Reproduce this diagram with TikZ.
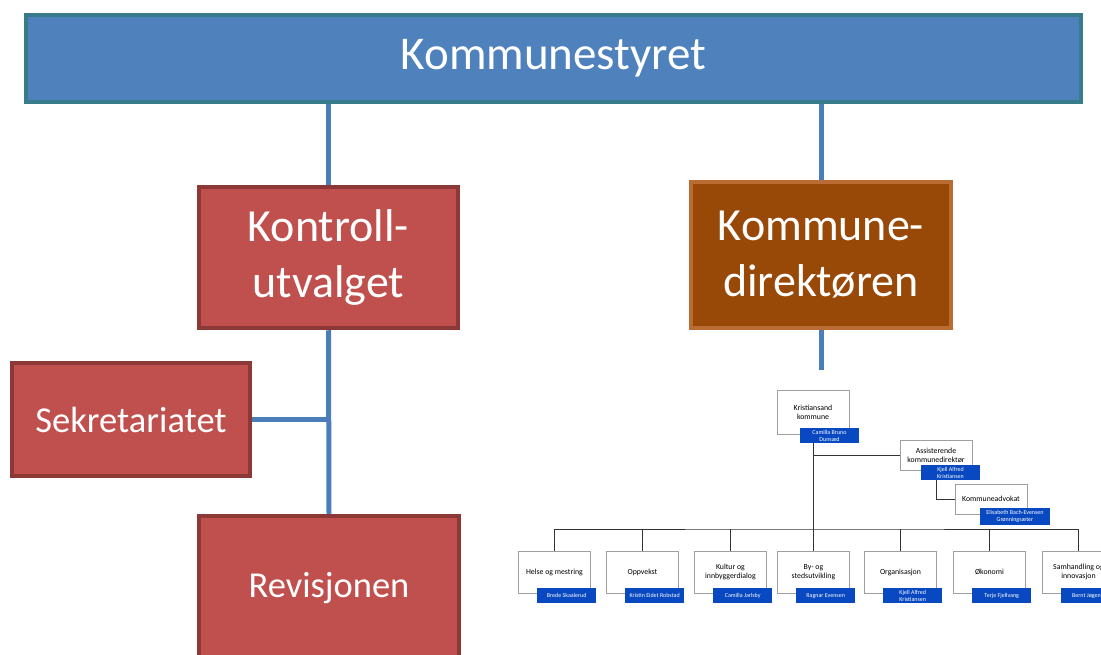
\documentclass[tikz,border=0pt]{standalone}
\usepackage{fontspec}
\setmainfont{Carlito}
\usepackage{xcolor}
\usepackage{tikz}
\usetikzlibrary{
  positioning,
  calc,
  backgrounds
}
\definecolor{styreblue}{RGB}{79,129,189}
\definecolor{styreedge}{RGB}{56,123,138}
\definecolor{kontrollred}{RGB}{192,80,77}
\definecolor{kontrolledge}{RGB}{140,56,54}
\definecolor{direktorbrown}{RGB}{152,72,7}
\definecolor{direktoredge}{RGB}{185,108,52}
\definecolor{linkblue}{RGB}{74,126,187}
\definecolor{nameblue}{RGB}{8,72,192}
\tikzset{
  topbox/.style={rectangle,draw,line width=4.5pt,text=white,align=center,inner sep=2pt},
  redbox/.style={topbox,fill=kontrollred,draw=kontrolledge},
  link/.style={draw=linkblue,line width=5pt},
  orgbox/.style={rectangle,draw=gray!75,line width=0.9pt,fill=white,align=center,minimum width=72pt,inner sep=1pt,font=\fontsize{7.8}{9}\selectfont},
  namebox/.style={rectangle,fill=nameblue,text=white,align=center,minimum width=59pt,minimum height=15pt,inner sep=0.5pt,font=\fontsize{6}{7}\selectfont},
  orgline/.style={draw=gray!40!black,line width=0.9pt}
}

\begin{document}
\begin{tikzpicture}[x=1pt,y=-1pt]
    \clip (0,0) rectangle (1101,655);
    \node[topbox,fill=styreblue,draw=styreedge,minimum width=1055pt,minimum height=87pt,font=\fontsize{47}{56}\selectfont] (styret) at (553.5,58.5) {Kommunestyret};
    \node[redbox,minimum width=259pt,minimum height=141pt,font=\fontsize{46}{56}\selectfont] (kontroll) at (328.5,257.5) {Kontroll-\\utvalget};
    \node[topbox,fill=direktorbrown,draw=direktoredge,minimum width=260pt,minimum height=146pt,font=\fontsize{46}{56}\selectfont] (direktor) at (821,255) {Kommune-\\direktøren};
    \node[redbox,minimum width=238pt,minimum height=113pt,font=\fontsize{36.5}{44}\selectfont] (sekr) at (131,419.5) {Sekretariatet};
    \node[redbox,minimum width=260pt,minimum height=144pt,font=\fontsize{36.5}{44}\selectfont] (revisjon) at (329,588) {Revisjonen};
    \coordinate (dirend) at (821,370);

    \node[orgbox,minimum height=44pt] (ks) at (813,412) {Kristiansand\\kommune};
    \node[namebox] (ksnavn) at (829.5,435.5) {Camilla Bruno\\Dunsæd};
    \node[orgbox,minimum height=30pt] (asst) at (936,455) {Assisterende\\kommunedirektør};
    \node[namebox] (asstnavn) at (950.5,472.5) {Kjell Alfred\\Kristiansen};
    \node[orgbox,minimum height=30pt] (advokat) at (991,499) {Kommuneadvokat};
    \node[namebox,minimum width=70pt,minimum height=17pt] (advnavn) at (1015,516.5) {Elisabeth Bach-Evensen\\Grønningsæter};
    \foreach \bx/\id/\fag/\navn in {518/a/{Helse og mestring}/{Brede Skaalerud},606/b/Oppvekst/{Kristin Eidet Robstad},694/c/{Kultur og\\innbyggerdialog}/{Camilla Jarlsby},777/d/{By- og\\stedsutvikling}/{Ragnar Evensen},864/e/Organisasjon/{Kjell Alfred\\Kristiansen},953/f/Økonomi/{Terje Fjellvang},1042/g/{Samhandling og\\innovasjon}/{Bernt Jøgensen}} {
        \node[orgbox,minimum height=42pt,anchor=north west] (org\id) at (\bx,551) {\fag};
        \node[namebox,anchor=north west] (navn\id) at ([xshift=19pt,yshift=6pt]org\id.south west) {\navn};
    }
    \coordinate (hub) at (813,529);

    \begin{scope}[on background layer]
        \draw[link] (kontroll.north) -- (kontroll.north |- styret.south);
        \draw[link] (direktor.north) -- (direktor.north |- styret.south);
        \draw[link] (direktor.south) -- (dirend);
        \draw[link] (kontroll.south) -- (revisjon.north);
        \draw[link] (sekr.east) -- (sekr.east -| kontroll.south);

        \draw[orgline] (ksnavn.south -| orgd.north) -- (orgd.north);
        \draw[orgline] (orga.north) |- (hub) -| (orgg.north);
        \foreach \id in {b,c,e,f}
            \draw[orgline] (org\id.north) -- (org\id.north |- hub);
        \draw[orgline] (asst.west) -- (asst.west -| orgd.north);
        \draw[orgline] (asstnavn.south -| asst.south) |- (advokat.west);
    \end{scope}
\end{tikzpicture}
\end{document}
